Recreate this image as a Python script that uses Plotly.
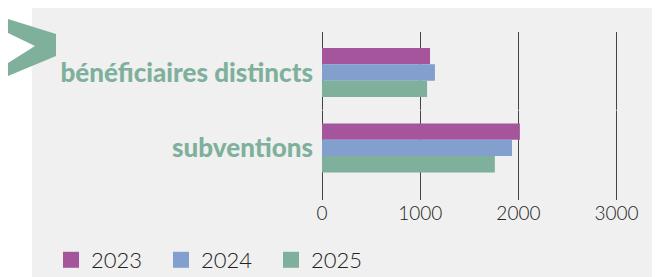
import plotly.graph_objects as go

categories = ["bénéficiaires distincts", "subventions"]
years = ["2023", "2024", "2025"]
values_2023 = [1100, 2015]
values_2024 = [1150, 1935]
values_2025 = [1070, 1760]
tick_vals = [0, 1000, 2000, 3000]
tick_text = ["0", "1000", "2000", "3000"]

colors = {"2023": "#a5559b", "2024": "#829fcd", "2025": "#7fb09c"}
series = {"2023": values_2023, "2024": values_2024, "2025": values_2025}

# page body adds an 8px offset; work in reference pixels and subtract it
OFF = 8
W, H = 660 - OFF, 277 - OFF
ML = 322 - OFF
MT = 32 - OFF
MB = H - (200 - OFF)
MR = 10
PW, PH = W - ML - MR, H - MT - MB


def px(x):
    return (x - OFF - ML) / PW


def py(y):
    return (H - MB - (y - OFF)) / PH


fig = go.Figure()
for yr in years:
    fig.add_trace(go.Bar(
        y=categories, x=series[yr], orientation="h", name=yr,
        marker=dict(color=colors[yr], line=dict(width=0)),
        showlegend=False, hoverinfo="x+name"))
for yr in years:
    fig.add_trace(go.Scatter(
        x=[None], y=[None], mode="markers", name=yr,
        marker=dict(symbol="square", size=16, color=colors[yr]),
        showlegend=True))

shapes = [
    dict(type="rect", xref="paper", yref="paper", x0=px(32), x1=px(664),
         y0=py(281), y1=py(8), fillcolor="#f0f0f0", line=dict(width=0),
         layer="below"),
    dict(type="path", xref="paper", yref="paper", layer="above",
         path=("M {},{} L {},{} L {},{} L {},{} L {},{} L {},{} L {},{} Z".format(
             px(8), py(19), px(56), py(34), px(56), py(56), px(8), py(76),
             px(8), py(63), px(35), py(46), px(8), py(33))),
         fillcolor="#7fb09c", line=dict(width=0)),
    dict(type="line", xref="paper", yref="y", x0=0, x1=1, y0=0.5, y1=0.5,
         line=dict(color="rgba(240,240,240,0.7)", width=1), layer="above"),
]

fig.update_layout(
    width=W, height=H,
    margin=dict(l=ML, r=MR, t=MT, b=MB, pad=0, autoexpand=False),
    paper_bgcolor="white", plot_bgcolor="rgba(0,0,0,0)",
    barmode="group", bargap=0.35, bargroupgap=0,
    shapes=shapes,
    font=dict(family="Lato", color="#222"),
    xaxis=dict(range=[0, 3340], tickvals=tick_vals, ticktext=tick_text,
               showgrid=True, gridcolor="#444444", gridwidth=1,
               zeroline=True, zerolinecolor="#444444", zerolinewidth=1,
               showline=False, ticks="", fixedrange=True,
               tickfont=dict(family="Lato", size=19, color="#222", weight=300)),
    yaxis=dict(type="category", range=[1.69, -0.536], showgrid=False,
               zeroline=False, showline=False, ticks="", ticklabelstandoff=8,
               tickfont=dict(family="Lato", size=26, color="#7fb09c", weight=900)),
    legend=dict(orientation="h", xref="container", yref="container",
                x=(51 - OFF) / W, xanchor="left",
                y=(H - (260 - OFF)) / H, yanchor="middle",
                bgcolor="rgba(0,0,0,0)", entrywidth=65,
                font=dict(family="Lato", size=22, color="#222", weight=300),
                itemsizing="trace"),
)

fig.write_html("out.html", config={"displayModeBar": False})
